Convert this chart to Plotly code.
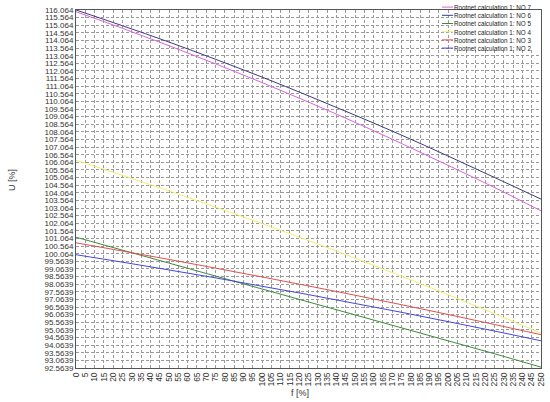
import plotly.graph_objects as go

f_vals = [0, 25, 50, 75, 100, 125, 150, 175, 200, 225, 250]

no7 = [115.95, 114.86, 113.72, 112.53, 111.30, 110.02, 108.69, 107.30, 105.87, 104.41, 102.88]
no6 = [116.064, 115.03, 113.96, 112.83, 111.66, 110.43, 109.16, 107.85, 106.48, 105.07, 103.65]
no5 = [101.15, 100.30, 99.45, 98.60, 97.75, 96.90, 96.05, 95.20, 94.35, 93.50, 92.62]
no4 = [106.2, 105.21, 104.19, 103.13, 102.05, 100.93, 99.78, 98.59, 97.38, 96.13, 94.85]
no3 = [100.78, 100.24, 99.69, 99.12, 98.54, 97.95, 97.34, 96.72, 96.08, 95.42, 94.75]
no2 = [100.0, 99.51, 99.00, 98.48, 97.93, 97.38, 96.80, 96.22, 95.61, 94.99, 94.35]

series_names = ["Rootnet calculation 1: NO 7", "Rootnet calculation 1: NO 6",
                "Rootnet calculation 1: NO 5", "Rootnet calculation 1: NO 4",
                "Rootnet calculation 1: NO 3", "Rootnet calculation 1: NO 2"]
series_vals = [no7, no6, no5, no4, no3, no2]
series_colors = ["#dc64dc", "#3c3c78", "#3c8c3c", "#f0f070", "#e05050", "#4646dc"]

x_ticks = list(range(0, 255, 5))
y_ticks = [92.5639 + 0.5 * i for i in range(48)]
y_ticktext = [("%.4f" % v)[:7] if v < 100 else ("%.3f" % v) for v in y_ticks]

FONT = "Liberation Sans, Arial"
T, B, L, R = 10, 34, 76, 9
PH = 402 - T - B
PW = 550 - L - R

fig = go.Figure()
for name, vals, col in zip(series_names, series_vals, series_colors):
    fig.add_trace(go.Scatter(x=f_vals, y=vals, mode="lines", name=name,
                             line=dict(color=col, width=1, shape="spline"),
                             showlegend=False))

# legend: white box, sample lines and one multi-line text block
fig.add_shape(type="rect", xref="paper", yref="paper", x0=0.81, x1=1.0, y0=0.89, y1=1.0,
              line=dict(width=0), fillcolor="white", layer="above")
row_h = 8.2 / PH
top_leg = 1.0 + 7.0 / PH
for i, col in enumerate(series_colors):
    yp = top_leg - (i + 0.5) * row_h
    fig.add_shape(type="line", xref="paper", yref="paper", x0=0.787, x1=0.811, y0=yp, y1=yp,
                  line=dict(color=col, width=1), layer="above")
fig.add_annotation(xref="paper", yref="paper", x=0.811, y=top_leg, text="<br>".join(series_names),
                   showarrow=False, xanchor="left", yanchor="top", align="left",
                   font=dict(family=FONT, size=6.3, color="#222222"), borderpad=0)

# axis titles
fig.add_annotation(xref="paper", yref="paper", x=(300 - L) / PW, y=-(393 - (402 - B)) / PH,
                   text="f [%]", showarrow=False, xanchor="center", yanchor="middle",
                   font=dict(family=FONT, size=9, color="#333333"))
fig.add_annotation(xref="paper", yref="paper", x=-(L - 12) / PW, y=((402 - B) - 180) / PH,
                   text="U [%]", showarrow=False, xanchor="center", yanchor="middle", textangle=-90,
                   font=dict(family=FONT, size=9, color="#333333"))

grid = dict(showgrid=True, gridcolor="#9a9a9a", griddash="3px,2px", gridwidth=1,
            showline=True, linecolor="#555555", mirror=True, zeroline=False,
            ticks="", ticklen=0, automargin=False)
fig.update_xaxes(range=[0, 250], tickvals=x_ticks, ticktext=[str(v) for v in x_ticks],
                 tickangle=-90, tickfont=dict(family=FONT, size=8.5, color="#333333"), **grid)
fig.update_yaxes(range=[y_ticks[0], y_ticks[-1]], tickvals=y_ticks, ticktext=y_ticktext,
                 tickfont=dict(family=FONT, size=8, color="#333333"), **grid)

fig.update_layout(width=550, height=402, margin=dict(l=L, r=R, t=T, b=B),
                  paper_bgcolor="white", plot_bgcolor="white")

fig.write_html("out.html", config={"displayModeBar": False},
               post_script="document.body.style.margin='0';document.body.style.overflow='hidden';")
